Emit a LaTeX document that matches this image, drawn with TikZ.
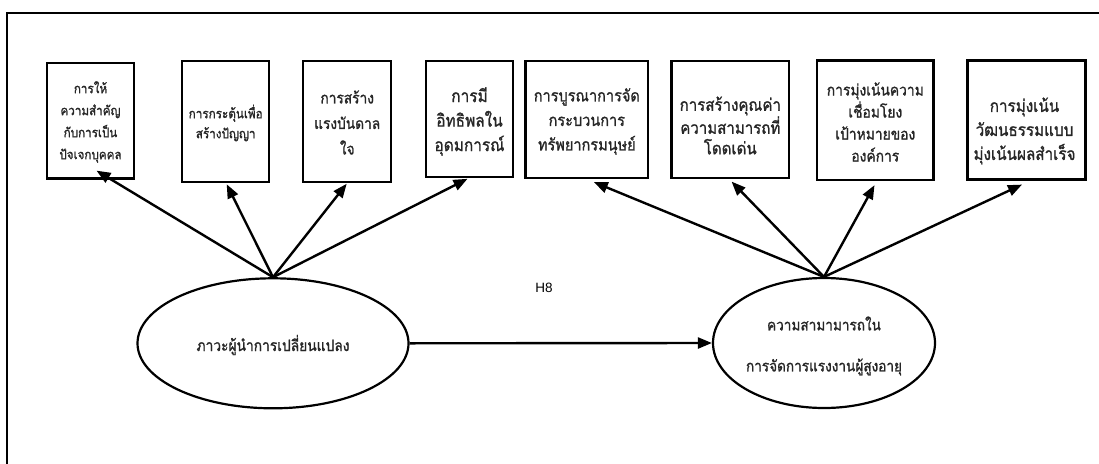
\documentclass[tikz,border=0pt]{standalone}
\usepackage{fontspec}
\setmainfont{Liberation Sans}
\newfontfamily\thaifont[Script=Thai,FakeStretch=0.88,FakeBold=1.2]{Loma}
\usetikzlibrary{arrows.meta,shapes.geometric}

% font size that sets the sample line #2 exactly #1 pt wide
\newlength\probewidth
\newcommand\fitsize[2]{%
  \settowidth\probewidth{\thaifont\fontsize{10}{12}\selectfont #2}%
  \pgfmathsetmacro\fitpt{10*#1/\probewidth}}

\begin{document}
\begin{tikzpicture}[x=1pt,y=-1pt,
  boxshape/.style={draw, line width=2.2pt, rectangle, inner sep=0pt},
  fittext/.style n args={3}{align=center, inner sep=0pt, text=black!85,
    font={\fitsize{#1}{#2}\thaifont\fontsize{\fitpt}{#3}\selectfont}},
  latent/.style={draw, ellipse, line width=2.2pt, inner sep=0pt},
  link/.style={line width=2.4pt, -{Triangle[length=14pt,width=11pt]}},
]
\useasboundingbox (0,0) rectangle (1099,463);
\clip (0,0) rectangle (1099,463);

% outer frame, open to the right and bottom
\coordinate (fr) at (1110,13);
\coordinate (fc) at (7,13);
\coordinate (fb) at (7,475);
\draw[line width=2.6pt] (fr) -- (fc) -- (fb);

% indicator boxes
\node[boxshape, minimum width=87.6pt,  minimum height=115.5pt] (b1) at (90.5,120.8) {};
\node[boxshape, minimum width=87.3pt,  minimum height=120.7pt] (b2) at (225.7,121.3) {};
\node[boxshape, minimum width=87.7pt,  minimum height=120.7pt] (b3) at (347.2,121.3) {};
\node[boxshape, minimum width=87.5pt,  minimum height=116pt]   (b4) at (469.5,119) {};
\node[boxshape, minimum width=122.5pt, minimum height=117pt]   (b5) at (586.8,119.5) {};
\node[boxshape, minimum width=117.5pt, minimum height=117pt]   (b6) at (730.3,119.5) {};
\node[boxshape, minimum width=116.5pt, minimum height=119.5pt] (b7) at (875.3,120.3) {};
\node[boxshape, minimum width=118pt,   minimum height=119pt]   (b8) at (1026.5,120) {};

% box captions
\node[fittext={60}{ความสำคัญ}{22}]          (t1) at (90.5,122)    {การให้\\ความสำคัญ\\กับการเป็น\\ปัจเจกบุคคล};
\node[fittext={74}{การกระตุ้นเพื่อ}{20}]       (t2) at (225.7,123)   {การกระตุ้นเพื่อ\\สร้างปัญญา};
\node[fittext={66}{แรงบันดาล}{25.5}]        (t3) at (347.2,122.5) {การสร้าง\\แรงบันดาล\\ใจ};
\node[fittext={70}{อุดมการณ์}{24.5}]         (t4) at (469.5,121.5) {การมี\\อิทธิพลใน\\อุดมการณ์};
\node[fittext={106}{การบูรณาการจัด}{24.5}]   (t5) at (586.8,121.5) {การบูรณาการจัด\\กระบวนการ\\ทรัพยากรมนุษย์};
\node[fittext={100}{ความสามารถที่}{20.5}]    (t6) at (730.3,125.5) {การสร้างคุณค่า\\ความสามารถที่\\โดดเด่น};
\node[fittext={97}{การมุ่งเน้นความ}{22}]      (t7) at (875.3,122)   {การมุ่งเน้นความ\\เชื่อมโยง\\เป้าหมายของ\\องค์การ};
\node[fittext={102}{มุ่งเน้นผลสำเร็จ}{24}]      (t8) at (1024.5,131)  {การมุ่งเน้น\\วัฒนธรรมแบบ\\มุ่งเน้นผลสำเร็จ};

% latent variables
\node[latent, minimum width=271pt, minimum height=130pt] (lead) at (273,343.3) {};
\node[latent, minimum width=222pt, minimum height=130pt] (mgmt) at (824,343) {};
\node[fittext={153}{ภาวะผู้นำการเปลี่ยนแปลง}{20}] (tl) at (273,345) {ภาวะผู้นำการเปลี่ยนแปลง};
\node[fittext={156}{การจัดการแรงงานผู้สูงอายุ}{41}] (tr) at (824,346)
  {ความสามามารถใน\\การจัดการแรงงานผู้สูงอายุ};

% hypothesis label
\node[font=\fontsize{13.5}{16}\selectfont, inner sep=0pt] (h8) at (544,288) {H8};

% loadings
\draw[link] (lead.north) -- ([xshift=6pt,yshift=9pt]b1.south);
\draw[link] (lead.north) -- ([xshift=1pt,yshift=-1.5pt]b2.south);
\draw[link] (lead.north) -- ([xshift=-0.5pt,yshift=-1pt]b3.south);
\draw[link] (lead.north) -- ([xshift=-2pt,yshift=-0.7pt]b4.south);
\draw[link] (mgmt.north) -- ([xshift=7pt,yshift=-3pt]b5.south);
\draw[link] (mgmt.north) -- ([xshift=1.3pt,yshift=-2.5pt]b6.south);
\draw[link] (mgmt.north) -- ([xshift=-0.8pt,yshift=-4pt]b7.south);
\draw[link] (mgmt.north) -- ([xshift=-4.5pt,yshift=-4pt]b8.south);

% structural path
\draw[link] (lead.east) -- (mgmt.west);
\end{tikzpicture}
\end{document}
